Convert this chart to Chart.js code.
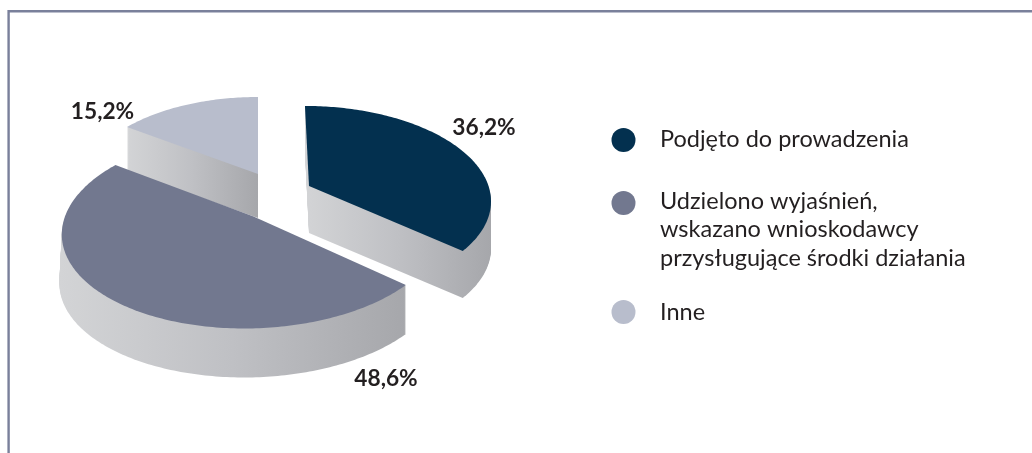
<!DOCTYPE html>
<html lang="pl">
<head>
<meta charset="utf-8">
<title>Wykres</title>
<style>
html,body{margin:0;padding:0;background:#fff}
canvas{display:block}
</style>
<script src="https://cdn.jsdelivr.net/npm/chart.js@4"></script>
</head>
<body>
<canvas id="c" width="1032" height="453"></canvas>
<script>
const categories = [
  'Podjęto do prowadzenia',
  ['Udzielono wyjaśnień,', 'wskazano wnioskodawcy', 'przysługujące środki działania'],
  'Inne'
];
const shares = [36.2, 48.6, 15.2];
const sliceColors = ['#03304f', '#72788f', '#b8bdcc'];

// Perspective of each slice: apex, radii, lean, wall depth and label offset.
const views = [
  {cx:309,   cy:186, rx:179.5, ry:91.3, p:.14, q:4.6, depth:47, grow:0,   lx:175,   ly:-51},
  {cx:253.5, cy:216.5, rx:188.5, ry:96.3, p:.14, q:-8,  depth:49, grow:2.5, lx:132.5, ly:169.5},
  {cx:258,   cy:174, rx:173.5, ry:87.8, p:.14, q:0,   depth:44, grow:0,   lx:-155.5, ly:-55}
];
const drawOrder = [2, 0, 1];
const wallStops = ['#d3d4d6', '#bfc0c4', '#a6a7ab'];
const FRAME = '#7a809b';
const TEXT = '#231f20';
const FONT = 'Lato, "Open Sans", sans-serif';

function project(v, angle, drop) {
  const X = Math.cos(angle), Y = Math.sin(angle);
  const den = 1 - v.p * Y;
  const extra = X < 0 ? X * v.grow * drop / v.depth : 0;
  return [v.cx + (v.rx * X + v.q * Y) / den + extra, v.cy + v.ry * Y / den + drop];
}

function slicePath(ctx, v, el, drop) {
  ctx.beginPath();
  ctx.moveTo(v.cx, v.cy + drop);
  const n = Math.max(2, Math.ceil((el.endAngle - el.startAngle) * 60));
  for (let i = 0; i <= n; i++) {
    const a = el.startAngle + (el.endAngle - el.startAngle) * i / n;
    const pt = project(v, a, drop);
    ctx.lineTo(pt[0], pt[1]);
  }
  ctx.closePath();
}

function xRange(v, el) {
  let lo = v.cx, hi = v.cx;
  for (let i = 0; i <= 60; i++) {
    const a = el.startAngle + (el.endAngle - el.startAngle) * i / 60;
    const x = project(v, a, v.depth)[0];
    lo = Math.min(lo, x); hi = Math.max(hi, x);
  }
  return [lo, hi];
}

const pie3d = {
  id: 'pie3d',
  beforeDraw(chart) {
    const ctx = chart.ctx;
    ctx.save();
    ctx.fillStyle = '#fff';
    ctx.fillRect(0, 0, chart.width, chart.height);
    ctx.strokeStyle = FRAME;
    ctx.lineWidth = 2.4;
    ctx.beginPath();
    ctx.moveTo(8.6, chart.height);
    ctx.lineTo(8.6, 11.2);
    ctx.lineTo(chart.width, 11.2);
    ctx.stroke();
    ctx.restore();
  },
  beforeDatasetsDraw(chart) {
    const ctx = chart.ctx;
    const arcs = chart.getDatasetMeta(0).data;
    ctx.save();
    drawOrder.forEach(i => {
      const el = arcs[i], v = views[i];
      const [lo, hi] = xRange(v, el);
      const g = ctx.createLinearGradient(lo, 0, hi, 0);
      wallStops.forEach((c, k) => g.addColorStop(k / (wallStops.length - 1), c));
      ctx.fillStyle = g;
      for (let d = v.depth; d >= 1; d--) {
        slicePath(ctx, v, el, d);
        ctx.fill();
      }
      ctx.fillStyle = el.options.backgroundColor;
      slicePath(ctx, v, el, 0);
      ctx.fill();
    });
    ctx.restore();
    return false;
  },
  afterDraw(chart) {
    const ctx = chart.ctx;
    const values = chart.data.datasets[0].data;
    ctx.save();
    ctx.textBaseline = 'alphabetic';
    ctx.fillStyle = TEXT;
    ctx.font = 'bold 22.7px ' + FONT;
    ctx.textAlign = 'center';
    values.forEach((val, i) => {
      const v = views[i];
      ctx.fillText(val.toFixed(1).replace('.', ',') + '%', v.cx + v.lx, v.cy + v.ly);
    });
    const items = chart.options.plugins.legend.labels.generateLabels(chart);
    const circleY = [140, 203, 312];
    const textY = [147, 208.5, 320];
    ctx.textAlign = 'left';
    ctx.font = '23.5px ' + FONT;
    items.forEach((item, i) => {
      ctx.fillStyle = item.fillStyle;
      ctx.beginPath();
      ctx.arc(623.5, circleY[i], 12, 0, Math.PI * 2);
      ctx.fill();
      ctx.fillStyle = TEXT;
      [].concat(item.text).forEach((line, k) => ctx.fillText(line, 660, textY[i] + k * 28.5));
    });
    ctx.restore();
  }
};

new Chart(document.getElementById('c'), {
  type: 'pie',
  data: {
    labels: categories,
    datasets: [{data: shares, backgroundColor: sliceColors, borderWidth: 0}]
  },
  options: {
    responsive: false,
    animation: false,
    rotation: 0,
    plugins: {legend: {display: false}, tooltip: {enabled: false}}
  },
  plugins: [pie3d]
});
</script>
</body>
</html>
